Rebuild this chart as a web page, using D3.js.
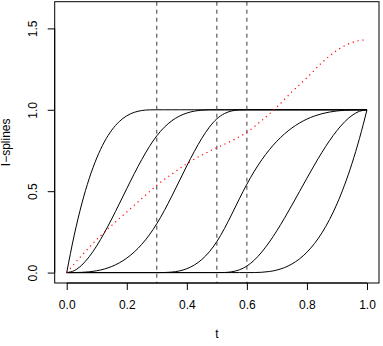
<!DOCTYPE html>
<html>
<head>
<meta charset="utf-8">
<script src="https://cdn.jsdelivr.net/npm/d3@7"></script>
<style>
  html, body { margin: 0; padding: 0; background: #ffffff; }
  svg { display: block; }
  text { font-family: "Liberation Sans", Arial, Helvetica, sans-serif; font-size: 12px; fill: #000; }
</style>
</head>
<body>
<svg id="chart" width="383" height="346"></svg>
<script>
// ---------------- data ----------------
const tValues = [0, 0.025, 0.05, 0.075, 0.1, 0.125, 0.15, 0.175, 0.2, 0.225, 0.25, 0.275,
  0.3, 0.325, 0.35, 0.375, 0.4, 0.425, 0.45, 0.475, 0.5, 0.525, 0.55, 0.575,
  0.6, 0.625, 0.65, 0.675, 0.7, 0.725, 0.75, 0.775, 0.8, 0.825, 0.85, 0.875,
  0.9, 0.925, 0.95, 0.975, 1.0];

const spline1 = [0, 0.2297, 0.4213, 0.5781, 0.7037, 0.8015, 0.875, 0.9277, 0.9630, 0.9844, 0.9954, 0.9994,
  1, 1, 1, 1, 1, 1, 1, 1, 1, 1, 1, 1,
  1, 1, 1, 1, 1, 1, 1, 1, 1, 1, 1, 1,
  1, 1, 1, 1, 1];
const spline2 = [0, 0.0119, 0.0456, 0.0975, 0.1644, 0.2431, 0.33, 0.4220, 0.5156, 0.6075, 0.6944, 0.7731,
  0.84, 0.8928, 0.9325, 0.9609, 0.98, 0.9916, 0.9975, 0.9997, 1, 1, 1, 1,
  1, 1, 1, 1, 1, 1, 1, 1, 1, 1, 1, 1,
  1, 1, 1, 1, 1];
const spline3 = [0, 0.0002, 0.0014, 0.0047, 0.0111, 0.0217, 0.0375, 0.0595, 0.0889, 0.1266, 0.1736, 0.2311,
  0.3, 0.3806, 0.4694, 0.5625, 0.6556, 0.7444, 0.825, 0.8931, 0.9444, 0.9766, 0.9931, 0.9991,
  1, 1, 1, 1, 1, 1, 1, 1, 1, 1, 1, 1,
  1, 1, 1, 1, 1];
const spline4 = [0, 0, 0, 0, 0, 0, 0, 0, 0, 0, 0, 0,
  0, 0.0004, 0.0030, 0.0100, 0.0238, 0.0465, 0.0804, 0.1276, 0.1905, 0.2696, 0.3595, 0.4530,
  0.5429, 0.6233, 0.6938, 0.7548, 0.8071, 0.8514, 0.8884, 0.9186, 0.9429, 0.9617, 0.9759, 0.9860,
  0.9929, 0.9970, 0.9991, 0.9999, 1];
const spline5 = [0, 0, 0, 0, 0, 0, 0, 0, 0, 0, 0, 0,
  0, 0, 0, 0, 0, 0, 0, 0, 0, 0.0006, 0.005, 0.0169,
  0.04, 0.0771, 0.1272, 0.1880, 0.2575, 0.3336, 0.4141, 0.4969, 0.58, 0.6612, 0.7384, 0.8096,
  0.8725, 0.9251, 0.9653, 0.9910, 1];
const spline6 = [0, 0, 0, 0, 0, 0, 0, 0, 0, 0, 0, 0,
  0, 0, 0, 0, 0, 0, 0, 0, 0, 0, 0, 0,
  0, 0.0002, 0.0020, 0.0066, 0.0156, 0.0305, 0.0527, 0.0837, 0.125, 0.1780, 0.2441, 0.3250,
  0.4219, 0.5364, 0.6699, 0.8240, 1];

const fitT = [0, 0.05, 0.1, 0.15, 0.2, 0.25, 0.3, 0.35, 0.4, 0.45, 0.5, 0.55,
  0.6, 0.65, 0.7, 0.75, 0.8, 0.85, 0.9, 0.95, 1.0];
const fitValues = [0, 0.105, 0.203, 0.29, 0.372, 0.455, 0.536, 0.605, 0.669, 0.722, 0.767, 0.81,
  0.862, 0.935, 1.017, 1.11, 1.197, 1.29, 1.365, 1.413, 1.431];

const knots = [0.3, 0.5, 0.6];
const xTicks = [0, 0.2, 0.4, 0.6, 0.8, 1.0];
const yTicks = [0, 0.5, 1.0, 1.5];
const xLabel = "t";
const yLabel = "I\u2212splines";

// ---------------- layout ----------------
const plot = { left: 54.7, right: 379, top: 1.7, bottom: 283 };
const svg = d3.select("#chart");

const x = d3.scaleLinear().domain([-0.04, 1.04]).range([plot.left, plot.right]);
const y = d3.scaleLinear().domain([-0.064, 1.664]).range([plot.bottom, plot.top]);

svg.append("defs").append("clipPath").attr("id", "clip")
  .append("rect")
  .attr("x", plot.left).attr("y", plot.top)
  .attr("width", plot.right - plot.left).attr("height", plot.bottom - plot.top);

const g = svg.append("g").attr("clip-path", "url(#clip)");

const series = [spline1, spline2, spline3, spline4, spline5, spline6];
const line = d3.line()
  .x((d, i) => x(tValues[i]))
  .y(d => y(d))
  .curve(d3.curveMonotoneX);

g.selectAll("path.spline").data(series).enter().append("path")
  .attr("class", "spline")
  .attr("d", d => line(d))
  .attr("fill", "none")
  .attr("stroke", "#000")
  .attr("stroke-width", 1);

// knot lines
g.selectAll("line.knot").data(knots).enter().append("line")
  .attr("class", "knot")
  .attr("x1", d => x(d)).attr("x2", d => x(d))
  .attr("y1", plot.top).attr("y2", plot.bottom)
  .attr("stroke", "#3a3a3a")
  .attr("stroke-width", 1)
  .attr("stroke-dasharray", "4,4");

// red dotted curve
const fitLine = d3.line()
  .x((d, i) => x(fitT[i]))
  .y(d => y(d))
  .curve(d3.curveMonotoneX);
g.append("path")
  .attr("d", fitLine(fitValues))
  .attr("fill", "none")
  .attr("stroke", "#ff0000")
  .attr("stroke-width", 1.2)
  .attr("stroke-dasharray", "1.2,3.8");

// box
svg.append("rect")
  .attr("x", plot.left).attr("y", plot.top)
  .attr("width", plot.right - plot.left).attr("height", plot.bottom - plot.top)
  .attr("fill", "none").attr("stroke", "#000").attr("stroke-width", 1);

// x axis
const xAxis = svg.append("g")
  .attr("transform", `translate(0,${plot.bottom})`)
  .call(d3.axisBottom(x).tickValues(xTicks).tickSize(7).tickSizeOuter(0).tickFormat(d3.format(".1f")));
xAxis.select(".domain").remove();
xAxis.append("line")
  .attr("x1", x(xTicks[0])).attr("x2", x(xTicks[xTicks.length - 1]))
  .attr("y1", 0).attr("y2", 0).attr("stroke", "#000");
xAxis.selectAll(".tick line").attr("stroke", "#000");
xAxis.selectAll(".tick text")
  .attr("y", 25.5).attr("dy", null)
  .attr("font-family", null).attr("font-size", null);

// y axis
const yAxis = svg.append("g")
  .attr("transform", `translate(${plot.left},0)`)
  .call(d3.axisLeft(y).tickValues(yTicks).tickSize(7).tickSizeOuter(0).tickFormat(d3.format(".1f")));
yAxis.select(".domain").remove();
yAxis.append("line")
  .attr("y1", y(yTicks[0])).attr("y2", y(yTicks[yTicks.length - 1]))
  .attr("x1", 0).attr("x2", 0).attr("stroke", "#000");
yAxis.selectAll(".tick line").attr("stroke", "#000");
yAxis.selectAll(".tick text")
  .attr("x", null).attr("dy", null)
  .attr("text-anchor", "middle")
  .attr("font-family", null).attr("font-size", null)
  .attr("transform", "translate(-18,0) rotate(-90)");

// titles
svg.append("text")
  .attr("x", (plot.left + plot.right) / 2).attr("y", 338.3)
  .attr("text-anchor", "middle")
  .text(xLabel);
svg.append("text")
  .attr("transform", `translate(9.8,${(plot.top + plot.bottom) / 2}) rotate(-90)`)
  .attr("text-anchor", "middle")
  .text(yLabel);
</script>
</body>
</html>
